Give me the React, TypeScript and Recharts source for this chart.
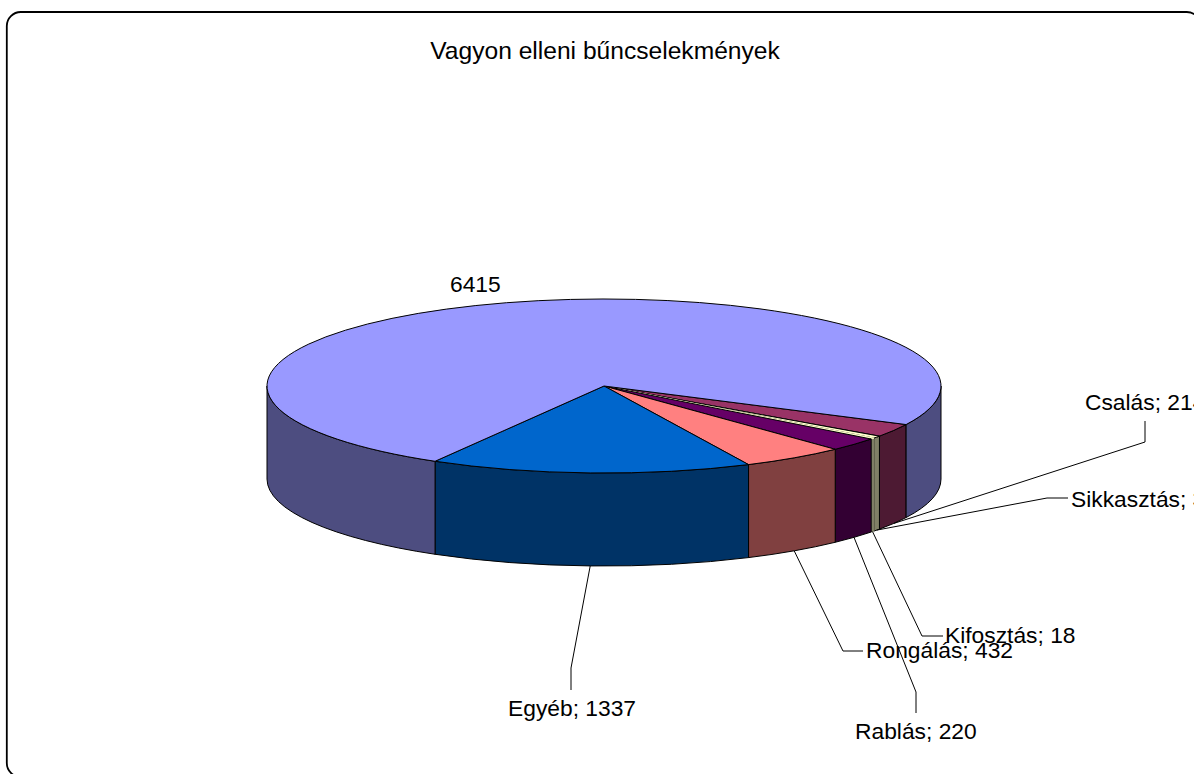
import { PieChart, Pie, Cell } from "recharts";

const categories = ["Csalás", "Sikkasztás", "Kifosztás", "Rablás", "Rongálás", "Egyéb", ""];
const values = [214, 39, 18, 220, 432, 1337, 6415];
const topColors = ["#993366", "#FFFFCC", "#FFFFCC", "#660066", "#FF8080", "#0066CC", "#9999FF"];
const sideColors = ["#4D1A33", "#808066", "#808066", "#330033", "#804040", "#003366", "#4D4D80"];
// Kifosztás is too thin to get its own outline, it reads as part of the pale sliver
const outlined = [true, true, false, true, true, true, true];

// label placement: [elbow, line end, text start], all in px
const labelLayout: Record<string, number[][]> = {
  Csalás: [[1145, 442], [1145, 421], [1085, 410]],
  Sikkasztás: [[1047, 498], [1068, 498], [1071, 507]],
  Kifosztás: [[922, 636], [943, 636], [945, 643]],
  Rablás: [[916, 692], [916, 713], [855, 739]],
  Rongálás: [[843, 651], [863, 651], [866, 658]],
  Egyéb: [[571, 668], [571, 690], [508, 716]],
  "": [[], [], [450, 292]],
};

const chartData = categories.map((name, i) => ({
  name,
  value: values[i],
  side: sideColors[i],
  outlined: outlined[i],
}));

const WIDTH = 1194;
const HEIGHT = 774;
const CX = 604;
const CY = 386;
const RADIUS = 337;
const TILT = 87 / 337;
const DEPTH = 93;
const FONT = "'Liberation Sans', Arial, sans-serif";

function rimPoint(t: number, drop = 0) {
  const rad = (t * Math.PI) / 180;
  return [CX + RADIUS * Math.cos(rad), CY + RADIUS * TILT * Math.sin(rad) + drop];
}

function wallPath(a: number, b: number) {
  const [x0, y0] = rimPoint(a);
  const [x1, y1] = rimPoint(b);
  const rx = RADIUS;
  const ry = RADIUS * TILT;
  return `M${x0},${y0} A${rx},${ry} 0 0 1 ${x1},${y1} L${x1},${y1 + DEPTH} A${rx},${ry} 0 0 0 ${x0},${y0 + DEPTH} Z`;
}

// recharts angles run the other way round, t goes clockwise on screen
function TiltedSlice(props: any) {
  const { startAngle, endAngle, fill, payload } = props;
  const t0 = -startAngle;
  const t1 = -endAngle;
  const [x0, y0] = rimPoint(t0);
  const [x1, y1] = rimPoint(t1);
  const large = t1 - t0 > 180 ? 1 : 0;
  const top = `M${CX},${CY} L${x0},${y0} A${RADIUS},${RADIUS * TILT} 0 ${large} 1 ${x1},${y1} Z`;

  // only the front half of the cylinder shows
  const walls: number[][] = [];
  [[0, 180], [360, 540]].forEach(([lo, hi]) => {
    const a = Math.max(t0, lo);
    const b = Math.min(t1, hi);
    if (b > a) walls.push([a, b]);
  });

  return (
    <g>
      {walls.map(([a, b]) => (
        <path
          key={a}
          d={wallPath(a, b)}
          fill={payload.side}
          stroke={payload.outlined ? "#000" : payload.side}
          strokeWidth={1}
        />
      ))}
      <path d={top} fill={fill} stroke={payload.outlined ? "#000" : fill} strokeWidth={1} />
    </g>
  );
}

function SliceLabel(props: any) {
  const { midAngle, name, value } = props;
  const [elbow, end, textAt] = labelLayout[name];
  const text = name ? `${name}; ${value}` : `${value}`;
  const [sx, sy] = rimPoint(-midAngle, DEPTH);
  return (
    <g>
      {name && (
        <polyline
          points={`${sx},${sy} ${elbow[0]},${elbow[1]} ${end[0]},${end[1]}`}
          fill="none"
          stroke="#000"
          strokeWidth={1}
        />
      )}
      <text x={textAt[0]} y={textAt[1]} fontFamily={FONT} fontSize={22.8} fill="#000" textAnchor="start">
        {text}
      </text>
    </g>
  );
}

export default function App() {
  return (
    <div style={{ position: "absolute", left: 0, top: 0, width: WIDTH, height: HEIGHT, overflow: "hidden", background: "#fff" }}>
      <PieChart width={WIDTH} height={HEIGHT} margin={{ top: 0, right: 0, bottom: 0, left: 0 }}>
        <rect x={6.8} y={12} width={1194} height={765} rx={14} ry={14} fill="#fff" stroke="#000" strokeWidth={1.8} />
        <text x={605} y={59} textAnchor="middle" fontFamily={FONT} fontSize={24.6} fill="#000">
          Vagyon elleni bűncselekmények
        </text>
        <Pie
          data={chartData}
          dataKey="value"
          nameKey="name"
          cx={CX}
          cy={CY}
          innerRadius={0}
          outerRadius={RADIUS}
          startAngle={-26.3}
          endAngle={-386.3}
          paddingAngle={0}
          stroke="none"
          shape={TiltedSlice}
          label={SliceLabel}
          labelLine={false}
          isAnimationActive={false}
        >
          {chartData.map((_, i) => (
            <Cell key={i} fill={topColors[i]} />
          ))}
        </Pie>
      </PieChart>
    </div>
  );
}
